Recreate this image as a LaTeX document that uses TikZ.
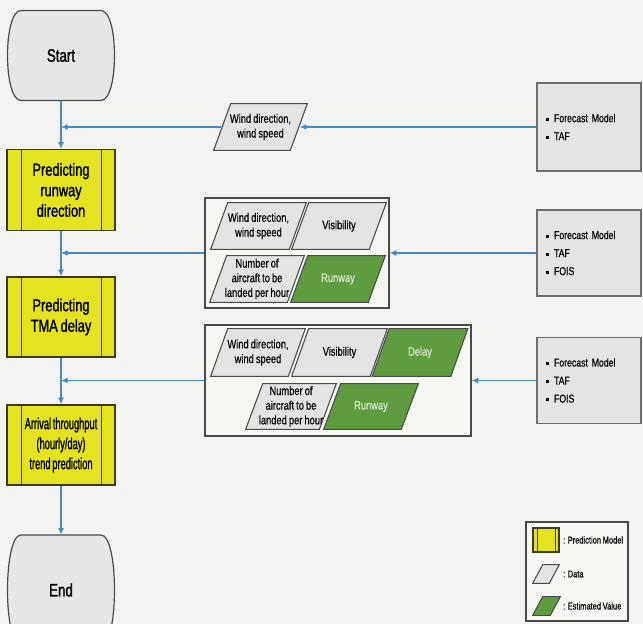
\documentclass[tikz,border=0pt]{standalone}
\usepackage{fontspec}
\setmainfont{Liberation Sans}[FakeStretch=0.76, WordSpace=0.8, FakeBold=0.4]
\newfontfamily\heavyfont{Liberation Sans}[FakeStretch=0.74, WordSpace=0.8, FakeBold=1.4]
\newfontfamily\narrowfont{Liberation Sans}[FakeStretch=0.58, WordSpace=0.7, FakeBold=1.2]
\usetikzlibrary{arrows.meta,calc}

\definecolor{pagebg}{HTML}{F3F4F1}
\definecolor{termfill}{HTML}{E6E6E6}
\definecolor{edgedark}{HTML}{4A4A4A}
\definecolor{modelyellow}{HTML}{E5E31F}
\definecolor{modeledge}{HTML}{3B3A1E}
\definecolor{datagray}{HTML}{E3E3E3}
\definecolor{estgreen}{HTML}{5E9C3F}
\definecolor{estgreentext}{HTML}{DCEBD6}
\definecolor{flowblue}{HTML}{4A88C0}
\definecolor{srcfill}{HTML}{E4E4E2}
\definecolor{srcedge}{HTML}{6E6E6E}
\definecolor{groupfill}{HTML}{F6F6F3}

\newcommand\sqbullet{\raisebox{0.9pt}{\rule{2.4pt}{2.4pt}}\hspace{3.6pt}}

% terminal (Start/End): flat top and bottom, bulging sides
\newcommand\terminal[5]{%
  \path[termshape] (#2-40,#3-#4) -- (#2+40,#3-#4)
    .. controls (#2+58,#3-#4) and (#2+58,#3+#4) .. (#2+40,#3+#4)
    -- (#2-40,#3+#4)
    .. controls (#2-58,#3+#4) and (#2-58,#3-#4) .. (#2-40,#3-#4) -- cycle;
  \node[termtext, sz={108}{2*#4}] (#1) at (#2,#3) {#5};
}

\tikzset{
  sz/.style 2 args={minimum width={#1*0.75pt}, minimum height={#2*0.75pt}},
  flow/.style={draw=flowblue, line width=0.9pt, -{Latex[length=5pt,width=4.5pt]}},
  termshape/.style={fill=termfill, draw=edgedark, line width=0.9pt},
  termtext/.style={shape=rectangle, inner sep=0pt, font=\heavyfont\fontsize{13.5}{16}\selectfont},
  model/.style={shape=rectangle, draw=modeledge, fill=modelyellow, line width=1pt,
    inner sep=0pt, align=center, path picture={
      \draw[modeledge, line width=0.7pt]
        ([xshift=#1]path picture bounding box.north west) -- ([xshift=#1]path picture bounding box.south west)
        ([xshift=-#1]path picture bounding box.north east) -- ([xshift=-#1]path picture bounding box.south east);}},
  modelfont/.style={font=\heavyfont\fontsize{13}{15.4}\selectfont},
  para/.style 2 args={shape=rectangle, inner sep=0pt, align=center,
    font=\fontsize{9.2}{11}\selectfont, path picture={
      \path[fill=#1, draw=edgedark, line width=0.8pt]
        ([shift={(0.5pt,0.5pt)}]path picture bounding box.south west)
        -- ([shift={(-#2-0.5pt,0.5pt)}]path picture bounding box.south east)
        -- ([shift={(-0.5pt,-0.5pt)}]path picture bounding box.north east)
        -- ([shift={(#2+0.5pt,-0.5pt)}]path picture bounding box.north west) -- cycle;}},
  data/.style={para={datagray}{12.75pt}},
  est/.style={para={estgreen}{12.75pt}, text=estgreentext},
  group/.style={shape=rectangle, draw=edgedark, fill=groupfill, line width=0.9pt, inner sep=0pt},
  src/.style={shape=rectangle, fill=srcfill, draw=srcedge, line width=0.8pt,
    inner xsep=6.75pt, inner ysep=0pt, text width=64.5pt, align=left,
    font=\fontsize{8.6}{13.5}\selectfont},
  legendbox/.style={shape=rectangle, draw=edgedark, fill=groupfill, line width=0.8pt, inner sep=0pt},
  legendtext/.style={anchor=west, inner sep=0pt, font=\fontsize{7.4}{9}\selectfont},
}

\begin{document}
\begin{tikzpicture}[x=0.75pt,y=-0.75pt]
  \fill[pagebg] (0,0) rectangle (643,624);
  \useasboundingbox (0,0) rectangle (643,624);

  % main flow
  \terminal{start}{61}{55.5}{45}{Start}
  \node[model=10.5pt, modelfont, sz={108}{81}] (m1) at (61,190) {Predicting\\runway\\direction};
  \node[model=10.5pt, modelfont, sz={108}{80}] (m2) at (61,317) {Predicting\\TMA delay};
  \node[model=10.5pt, sz={108}{80}, font=\narrowfont\fontsize{12}{15}\selectfont] (m3) at (61,445)
    {Arrival throughput\\(hourly/day)\\trend prediction};
  \terminal{end}{61}{590}{55}{End}

  \coordinate (j1) at (61,127);
  \coordinate (j2) at (61,253);
  \coordinate (j3) at (61,380.5);

  \draw[flow] (start) -- (m1);
  \draw[flow] (m1) -- (m2);
  \draw[flow] (m2) -- (m3);
  \draw[flow] (m3) -- (end);

  % data sources
  \node[src, sz={104}{88}] (src1) at (589,127) {\sqbullet Forecast Model\\\sqbullet TAF};
  \node[src, sz={104}{86}] (src2) at (589,253) {\sqbullet Forecast Model\\\sqbullet TAF\\\sqbullet FOIS};
  \node[src, sz={104}{86}] (src3) at (589,380.5) {\sqbullet Forecast Model\\\sqbullet TAF\\\sqbullet FOIS};

  % inputs of the runway direction model
  \node[data, sz={95}{48}] (d1) at (260.5,127) {Wind direction,\\wind speed};

  % inputs of the TMA delay model
  \node[group, sz={184}{110}] (g2) at (297,253) {};
  \node[data, sz={97}{48}] (wind2) at (258.5,226) {Wind direction,\\wind speed};
  \node[data, sz={96}{48}] (vis2) at (339,226) {Visibility};
  \node[data, sz={96}{48}] (num2) at (257,279) {Number of\\aircraft to be\\landed per hour};
  \node[est, sz={96}{48}] (run2) at (338,279) {Runway};

  % inputs of the arrival throughput model
  \node[group, sz={266}{111}] (g3) at (338,380.5) {};
  \node[data, sz={96}{49}] (wind3) at (258,352.5) {Wind direction,\\wind speed};
  \node[data, sz={97}{49}] (vis3) at (339.5,352.5) {Visibility};
  \node[est, sz={97}{49}] (delay3) at (420,352.5) {Delay};
  \node[data, sz={92}{47}] (num3) at (291,406.5) {Number of\\aircraft to be\\landed per hour};
  \node[est, sz={96}{47}] (run3) at (371,406.5) {Runway};

  % connectors from the sources
  \draw[flow] (src1.west) -- ([xshift=-6.4pt]d1.east);
  \draw[flow] ([xshift=6.4pt]d1.west) -- (j1);
  \draw[flow] (src2.west) -- (g2.east);
  \draw[flow] (g2.west) -- (j2);
  \draw[flow] (src3.west) -- (g3.east);
  \draw[flow] (g3.west) -- (j3);

  % legend
  \node[legendbox, sz={102}{99}] (legend) at (577,571.5) {};
  \node[model=3pt, line width=0.8pt, sz={26}{24}] (lgmodel) at (546,540) {};
  \node[para={datagray}{7.5pt}, sz={28}{20}] (lgdata) at (546,574) {};
  \node[para={estgreen}{7.5pt}, sz={29}{20}] (lgest) at (546.5,606) {};
  \node[legendtext] (lgmodeltext) at (563,540) {: Prediction Model};
  \node[legendtext] (lgdatatext) at (563,574) {: Data};
  \node[legendtext] (lgesttext) at (563,606) {: Estimated Value};
\end{tikzpicture}
\end{document}
